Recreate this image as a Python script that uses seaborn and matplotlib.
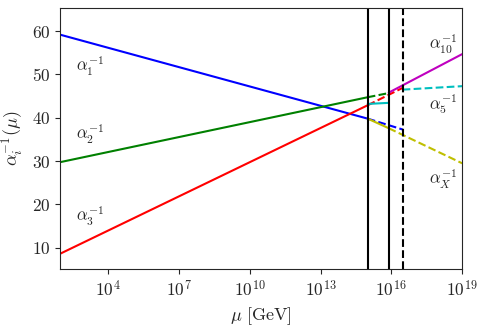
import matplotlib

matplotlib.use("Agg")
import matplotlib.pyplot as plt
import seaborn as sns
from matplotlib.ticker import FixedLocator, NullLocator

# energy scales [GeV]
M_Z = 91.19
M_I = 1e15       # intermediate breaking scale
M_U = 7.7e15     # unification scale
M_X = 3e16       # dashed reference scale
M_PL = 1e19

# SM running (solid) and their continuation (dashed)
mu_sm = [M_Z, M_I]
alpha1_inv = [59.2, 39.8]
alpha2_inv = [29.75, 44.75]
alpha3_inv = [8.6, 42.9]

mu_ext13 = [M_I, M_X]
alpha1_ext = [39.8, 37.3]
alpha3_ext = [42.9, 46.9]
mu_ext2 = [M_I, M_U]
alpha2_ext = [44.75, 45.7]

# intermediate regime
mu_mid = [M_I, M_U]
alpha5_inv = [43.2, 43.45]
alphaX_inv = [39.8, 37.6]

# above unification
mu_high = [M_U, M_PL]
alpha10_inv = [45.8, 54.7]
mu_x_ext = [M_U, M_PL]
alphaX_ext = [37.6, 29.5]
mu_5_ext = [M_X, M_PL]
alpha5_ext = [46.5, 47.3]

sns.set_style("ticks")
plt.rcParams["font.family"] = ["serif"]
plt.rcParams["font.serif"] = ["cmr10", "DejaVu Serif"]
plt.rcParams["mathtext.fontset"] = "cm"
plt.rcParams["axes.formatter.use_mathtext"] = True
plt.rcParams["font.size"] = 12.5
plt.rcParams["axes.labelsize"] = 13
plt.rcParams["axes.unicode_minus"] = False

fig = plt.figure(figsize=(4.87, 3.27), dpi=100)
ax = fig.add_axes([0.123, 0.176, 0.826, 0.799])
ax.set_xscale("log")

lw = 1.5
segments = [
    (mu_sm, alpha1_inv, "b", "-"),
    (mu_sm, alpha2_inv, "g", "-"),
    (mu_sm, alpha3_inv, "r", "-"),
    (mu_ext13, alpha1_ext, "b", "--"),
    (mu_ext13, alpha3_ext, "r", "--"),
    (mu_ext2, alpha2_ext, "g", "--"),
    (mu_mid, alpha5_inv, "c", "-"),
    (mu_mid, alphaX_inv, "y", "-"),
    (mu_high, alpha10_inv, "m", "-"),
    (mu_x_ext, alphaX_ext, "y", "--"),
    (mu_5_ext, alpha5_ext, "c", "--"),
]
for xs, ys, c, ls in segments:
    sns.lineplot(x=xs, y=ys, color=c, linestyle=ls, linewidth=lw, ax=ax)

ax.axvline(M_I, color="k", lw=lw)
ax.axvline(M_U, color="k", lw=lw)
ax.axvline(M_X, color="k", lw=lw, ls="--")

ax.set_xlim(M_Z, M_PL)
ax.set_ylim(5, 65.3)
ax.xaxis.set_major_locator(FixedLocator([1e4, 1e7, 1e10, 1e13, 1e16, 1e19]))
ax.xaxis.set_minor_locator(NullLocator())
ax.set_yticks([10, 20, 30, 40, 50, 60])

ax.set_xlabel(r"$\mu\ [\mathrm{GeV}]$")
ax.set_ylabel(r"$\alpha_i^{-1}(\mu)$")

fs = 12
ax.text(10**2.64, 51.8, r"$\alpha_1^{-1}$", fontsize=fs, va="center")
ax.text(10**2.64, 36.1, r"$\alpha_2^{-1}$", fontsize=fs, va="center")
ax.text(10**2.64, 17.2, r"$\alpha_3^{-1}$", fontsize=fs, va="center")
ax.text(10**17.6, 56.9, r"$\alpha_{10}^{-1}$", fontsize=fs, va="center")
ax.text(10**17.6, 43.1, r"$\alpha_5^{-1}$", fontsize=fs, va="center")
ax.text(10**17.6, 25.8, r"$\alpha_X^{-1}$", fontsize=fs, va="center")

fig.savefig("out.png", dpi=100)
